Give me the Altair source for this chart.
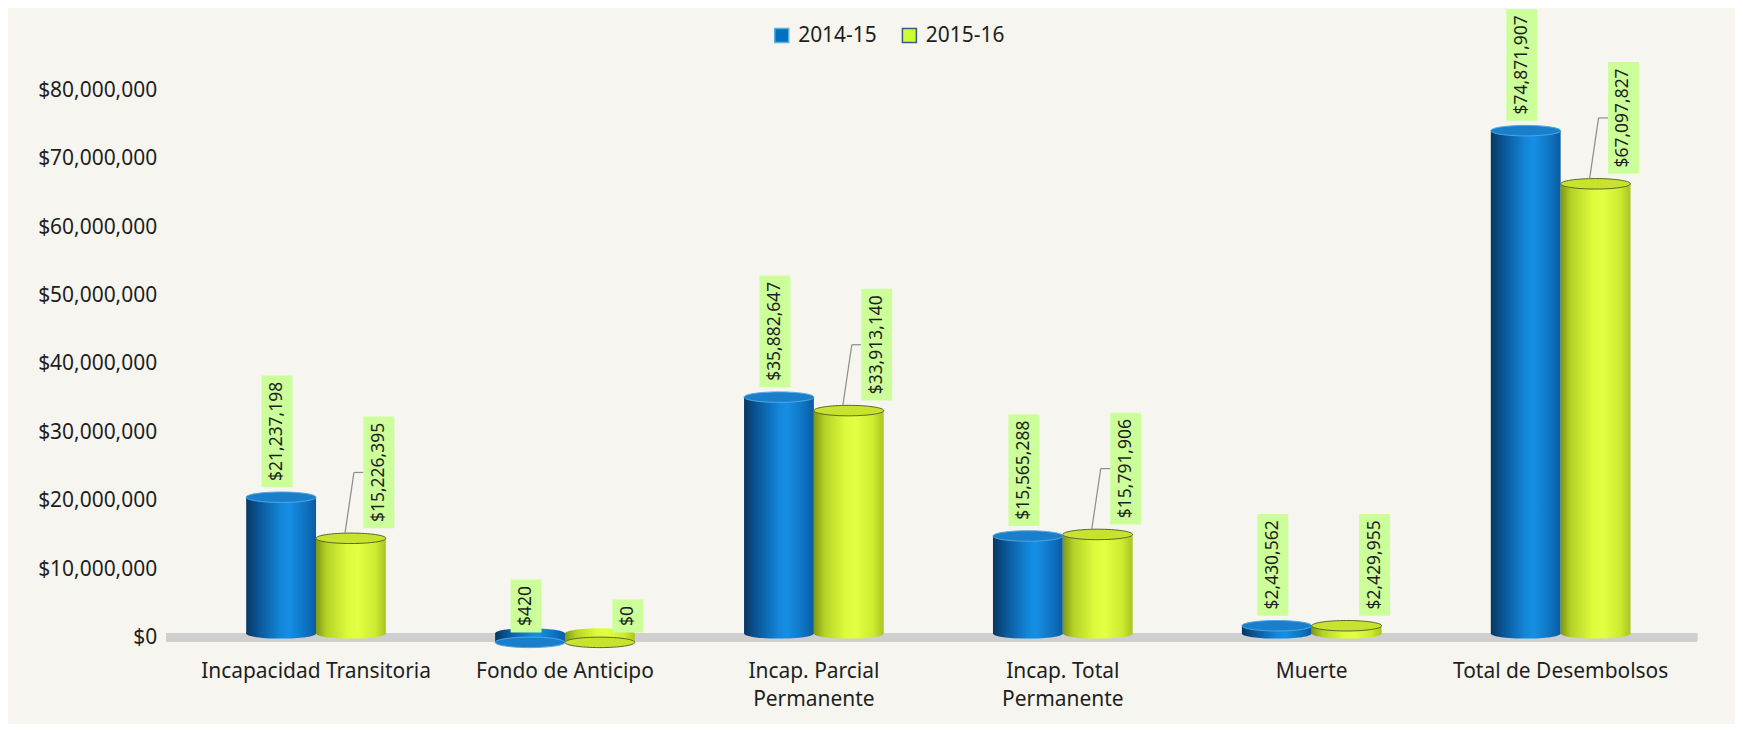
import altair as alt
import pandas as pd

# ---------------- data ----------------
categories = [
    "Incapacidad Transitoria",
    "Fondo de Anticipo",
    "Incap. Parcial Permanente",
    "Incap. Total Permanente",
    "Muerte",
    "Total de Desembolsos",
]
series = ["2014-15", "2015-16"]
values_2014_15 = [21237198, 420, 35882647, 15565288, 2430562, 74871907]
values_2015_16 = [15226395, 0, 33913140, 15791906, 2429955, 67097827]
y_ticks = [0, 10000000, 20000000, 30000000, 40000000, 50000000, 60000000, 70000000, 80000000]

rows = []
for c, a, b in zip(categories, values_2014_15, values_2015_16):
    rows.append({"cat": c, "serie": series[0], "value": a})
    rows.append({"cat": c, "serie": series[1], "value": b})
df = pd.DataFrame(rows)

# ---------------- style ----------------
W, H = 1497, 548
Y_MAX = 80000000
U = Y_MAX / H  # data units per pixel
FONT = "Noto Sans"
TXT = "#1E1E1E"
BAR_W = 70
HALF = BAR_W / 2
NB = "\u00a0"

yscale = alt.Scale(domain=[0, Y_MAX], nice=False, zero=True)
xscale = alt.Scale(paddingInner=0, paddingOuter=0)

label_expr = (
    "split(replace(replace(datum.label, 'Parcial Permanente', 'Parcial|Permanente"
    + NB * 3
    + "'), 'Total Permanente', 'Total"
    + NB
    + "|Permanente'), '|')"
)

x_axis = alt.Axis(
    labelAngle=0, domain=False, ticks=False, tickSize=0, labelPadding=23,
    labelFontSize=21, labelFont=FONT, labelColor=TXT, labelLineHeight=28,
    labelLimit=400, labelBound=False, labelOverlap=False, grid=False,
    labelExpr=label_expr,
)
y_axis = alt.Axis(
    values=y_ticks, format="$,.0f", domain=False, ticks=False, tickSize=0,
    grid=False, labelPadding=35, labelFontSize=21, labelFont=FONT,
    labelColor=TXT, labelLimit=400,
)

X = alt.X("cat:N", sort=categories, title=None, scale=xscale, axis=x_axis)


def Y(field):
    return alt.Y(field, scale=yscale, axis=y_axis, title=None)


base = (
    alt.Chart(df)
    .transform_calculate(label="format(datum.value, '$,.0f')")
    .transform_calculate(ncomma="length(split(datum.label, ',')) - 1")
    .transform_calculate(boxlen="13 + 10*(length(datum.label) - datum.ncomma) + 4.5*datum.ncomma")
    .transform_calculate(box_lo=f"datum.value + 5*{U}")
    .transform_calculate(box_hi=f"datum.value + (5 + datum.boxlen)*{U}")
    .transform_calculate(box_mid="(datum.box_lo + datum.box_hi)/2")
    .transform_calculate(v0="0")
)


def grad(stops):
    return alt.LinearGradient(
        gradient="linear", x1=0, x2=1, y1=0, y2=0,
        stops=[alt.GradientStop(offset=o, color=c) for o, c in stops],
    )


blue_grad = grad([(0, "#073763"), (0.18, "#0B5696"), (0.5, "#1287DA"),
                  (0.62, "#168FE2"), (0.85, "#0E72C2"), (1, "#0A5CA0")])
yellow_grad = grad([(0, "#7E9614"), (0.15, "#B4D226"), (0.45, "#DDFA3C"),
                    (0.6, "#E4FF44"), (0.85, "#CDEB30"), (1, "#A9C423")])

ELLIPSE = "M-1,0A1,0.15,0,1,0,1,0A1,0.15,0,1,0,-1,0Z"

# floor plane
floor = base.mark_rule(color="#CFCFCF", strokeWidth=8).encode(
    y=Y("v0:Q"), x=alt.value(-25), x2=alt.value(W + 12),
)

# left border of chart area
border = alt.Chart(pd.DataFrame({"v": [0]})).mark_rule(
    color="#D6D6D6", strokeWidth=2
).encode(
    x=alt.value(-186), y=alt.value(-90), y2=alt.value(H + 94),
)

# solid bars that only feed the legend
legend_bars = base.mark_bar(strokeWidth=1, width=BAR_W).encode(
    x=X,
    y=Y("value:Q"),
    color=alt.Color(
        "serie:N", sort=series,
        scale=alt.Scale(domain=series, range=["#0070C0", "#CCFF33"]),
        legend=alt.Legend(
            title=None, orient="none", legendX=581, legendY=-66,
            direction="horizontal", symbolType="square", symbolSize=196,
            symbolStrokeWidth=1.5, labelFontSize=21, labelFont=FONT,
            labelColor=TXT, labelOffset=6, columnPadding=22, padding=0,
        ),
    ),
    stroke=alt.Stroke(
        "serie:N", sort=series,
        scale=alt.Scale(domain=series, range=["#5AAEE0", "#3C5A80"]),
        legend=None,
    ),
).transform_filter("false")

layers = [floor, border, legend_bars]

styles = [
    (series[0], -HALF, blue_grad, "#1A7FCB", "#4FA6E3", -39),
    (series[1], HALF, yellow_grad, "#C9E22E", "#56672A", 63),
]

for name, off, g, capfill, capstroke, boxoff in styles:
    sub = base.transform_filter(f"datum.serie == '{name}'")
    bottom = sub.mark_point(
        shape=ELLIPSE, size=BAR_W * BAR_W, filled=True, fill=g,
        strokeWidth=0, opacity=1, xOffset=off, yOffset=-4,
    ).encode(x=X, y=Y("v0:Q"))
    body = sub.mark_bar(
        fill=g, width=BAR_W, xOffset=off, yOffset=5, y2Offset=-4,
    ).encode(x=X, y=Y("value:Q"), y2=alt.Y2("v0:Q"))
    cap = sub.mark_point(
        shape=ELLIPSE, size=BAR_W * BAR_W, filled=True, fill=capfill,
        stroke=capstroke, strokeWidth=1, opacity=1, xOffset=off, yOffset=5,
    ).encode(x=X, y=Y("value:Q"))
    layers += [bottom, body, cap]

# leader lines for displaced 2015-16 labels
lead = base.transform_filter(f"datum.serie == '{series[1]}' && datum.value > 10000000")
lead1 = lead.mark_rule(color="#8C8C8C", strokeWidth=1.2, xOffset=29, x2Offset=38).encode(
    x=X, x2=alt.X2("cat:N"), y=Y("value:Q"), y2=alt.Y2("box_mid:Q"),
)
lead2 = lead.mark_rule(color="#8C8C8C", strokeWidth=1.2, xOffset=38, x2Offset=47.5).encode(
    x=X, x2=alt.X2("cat:N"), y=Y("box_mid:Q"),
)
layers += [lead1, lead2]

for name, off, g, capfill, capstroke, boxoff in styles:
    sub = base.transform_filter(f"datum.serie == '{name}'")
    box = sub.mark_bar(fill="#CCFF99", width=31, xOffset=boxoff).encode(
        x=X, y=Y("box_lo:Q"), y2=alt.Y2("box_hi:Q"),
    )
    txt = sub.mark_text(
        angle=270, font=FONT, fontSize=17.5, color=TXT, align="center",
        baseline="middle", xOffset=boxoff,
    ).encode(x=X, y=Y("box_mid:Q"), text="label:N")
    layers += [box, txt]

chart = alt.layer(*layers).properties(
    width=W, height=H,
    autosize=alt.AutoSizeParams(type="none"),
    padding={"left": 184, "top": 82, "right": 50, "bottom": 86},
    background="#F6F5EF",
).configure_view(stroke=None)

chart.save("out.html", embed_options={"renderer": "svg", "actions": False})
